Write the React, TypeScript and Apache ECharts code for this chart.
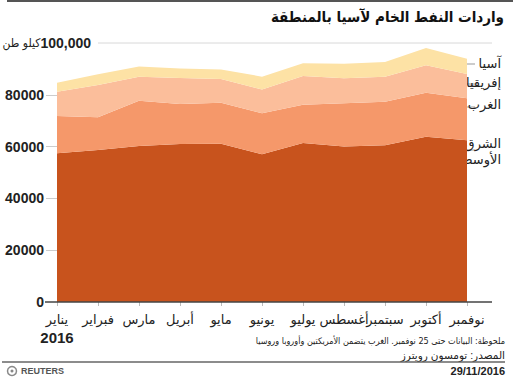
import React, { useEffect, useRef } from "react";
import * as echarts from "echarts";

const months = ["يناير", "فبراير", "مارس", "أبريل", "مايو", "يونيو", "يوليو", "أغسطس", "سبتمبر", "أكتوبر", "نوفمبر"];
const middleEast = [57400, 58700, 60200, 61000, 61100, 57000, 61400, 60000, 60500, 63800, 62500];
const west = [14400, 12600, 17500, 15400, 15800, 15900, 14800, 16700, 16800, 17000, 16200];
const africa = [9400, 12500, 9300, 10100, 9200, 9100, 11100, 9700, 9700, 10600, 9300];
const asia = [3500, 4100, 3900, 3700, 3700, 5000, 4900, 5600, 5700, 6700, 5900];
const yLabelValues = [0, 20000, 40000, 60000, 80000];
const yTickValues = [20000, 40000, 60000, 80000];
const yMax = 100000;
const seriesNames = ["الشرق الأوسط", "الغرب", "إفريقيا", "آسيا"];
const seriesColors = ["#c8531d", "#f5986a", "#fbbe9b", "#fde2a5"];
const title = "واردات النفط الخام لآسيا بالمنطقة";
const unit = "كيلو طن";
const year = "2016";
const note = "ملحوظة: البيانات حتى 25 نوفمبر. الغرب يتضمن الأمريكتين وأوروبا وروسيا";
const source = "المصدر: تومسون رويترز";
const date = "29/11/2016";

const FONT = "'Liberation Sans', 'DejaVu Sans', Arial, sans-serif";
const CFONT = "'DejaVu Sans Condensed', 'DejaVu Sans', sans-serif";

export default function App() {
  const ref = useRef<HTMLDivElement>(null);
  useEffect(() => {
    if (!ref.current) return;
    const chart = echarts.init(ref.current, undefined, { renderer: "svg" });
    const dataSets = [middleEast, west, africa, asia];
    chart.setOption({
      animation: false,
      textStyle: { fontFamily: FONT },
      grid: { left: 57, right: 46, top: 43, bottom: 76, containLabel: false },
      xAxis: {
        type: "category",
        data: months,
        boundaryGap: false,
        axisLine: { show: false },
        axisTick: { show: true, length: 4, lineStyle: { color: "#bbb", width: 1 } },
        axisLabel: {
          margin: 8,
          interval: 0,
          formatter: (v: string, i: number) => (i === 0 ? `{m|${v}}\n{y|${year}}` : `{m|${v}}`),
          rich: {
            m: { fontSize: 13, color: "#222", fontFamily: FONT, lineHeight: 18 },
            y: { fontSize: 15, fontWeight: "bold", color: "#222", fontFamily: FONT, lineHeight: 18 },
          },
        },
      },
      yAxis: {
        type: "value",
        min: 0,
        max: yMax,
        interval: 20000,
        axisLine: { show: false },
        splitLine: { show: false },
        axisTick: { show: true, length: 11, lineStyle: { color: "#ccc" }, customValues: yTickValues },
        axisLabel: {
          customValues: yLabelValues,
          margin: 13,
          fontSize: 14,
          fontWeight: "bold",
          color: "#222",
          fontFamily: FONT,
          formatter: (v: number) => (v === yMax ? "" : String(v)),
        },
      },
      series: dataSets.map((d, i) => ({
        name: seriesNames[i],
        type: "line",
        stack: "total",
        data: d,
        symbol: "none",
        lineStyle: { width: 0 },
        areaStyle: { color: seriesColors[i], opacity: 1 },
        itemStyle: { color: seriesColors[i] },
        z: 2,
      })),
    });

    const y0 = chart.convertToPixel({ yAxisIndex: 0 }, 0) as number;
    const yTop = chart.convertToPixel({ yAxisIndex: 0 }, yMax) as number;

    const legendItems = [
      { text: "آسيا", ty: 63, ly: 64 },
      { text: "إفريقيا", ty: 82, ly: 84 },
      { text: "الغرب", ty: 104, ly: 107 },
      { text: "الشرق\nالأوسط", ty: 151, ly: 150 },
    ];

    const graphics: any[] = [
      { type: "line", shape: { x1: 7, y1: 1, x2: 513, y2: 1 }, style: { stroke: "#555", lineWidth: 2 } },
      {
        type: "text",
        x: 504,
        y: 17,
        style: { text: title, align: "right", verticalAlign: "middle", font: `bold 15px ${CFONT}`, fill: "#111" },
      },
      { type: "line", shape: { x1: 98, y1: yTop, x2: 492, y2: yTop }, style: { stroke: "#d8d8d8", lineWidth: 1 } },
      {
        type: "text",
        x: 91,
        y: yTop,
        style: {
          text: `{u|${unit}}{b|100,000}`,
          align: "right",
          verticalAlign: "middle",
          rich: {
            u: { fontSize: 12, fontFamily: CFONT, fill: "#222", color: "#222" },
            b: { fontSize: 14, fontWeight: "bold", fontFamily: FONT, fill: "#222", color: "#222" },
          },
        },
      },
      { type: "line", z: 10, shape: { x1: 45, y1: y0, x2: 492, y2: y0 }, style: { stroke: "#444", lineWidth: 1.5 } },
      {
        type: "text",
        x: 505,
        y: 341,
        style: { text: note, align: "right", verticalAlign: "middle", font: `9px ${CFONT}`, fill: "#222" },
      },
      {
        type: "text",
        x: 505,
        y: 355,
        style: { text: source, align: "right", verticalAlign: "middle", font: `10.5px ${FONT}`, fill: "#222" },
      },
      { type: "line", shape: { x1: 2, y1: 362, x2: 505, y2: 362 }, style: { stroke: "#666", lineWidth: 1.5 } },
      {
        type: "text",
        x: 505,
        y: 371,
        style: { text: date, align: "right", verticalAlign: "middle", font: `bold 11px ${FONT}`, fill: "#222" },
      },
      { type: "circle", shape: { cx: 12, cy: 371, r: 4.5 }, style: { fill: "none", stroke: "#888", lineWidth: 1.5 } },
      { type: "circle", shape: { cx: 12, cy: 371, r: 1.5 }, style: { fill: "#888" } },
      {
        type: "text",
        x: 21,
        y: 371,
        style: { text: "REUTERS", align: "left", verticalAlign: "middle", font: `bold 9px ${FONT}`, fill: "#555" },
      },
    ];
    legendItems.forEach((it) => {
      graphics.push({
        type: "line",
        shape: { x1: 467, y1: it.ly, x2: 475, y2: it.ly },
        style: { stroke: "#999", lineWidth: 1 },
      });
      graphics.push({
        type: "text",
        x: 501,
        y: it.ty,
        style: {
          text: it.text,
          align: "right",
          verticalAlign: "middle",
          font: `13px ${FONT}`,
          fill: "#222",
          lineHeight: 16,
        },
      });
    });
    chart.setOption({ graphic: graphics });

    return () => chart.dispose();
  }, []);
  return (
    <div
      ref={ref}
      style={{ position: "fixed", left: 0, top: 0, width: 513, height: 378, background: "#fff" }}
    />
  );
}
